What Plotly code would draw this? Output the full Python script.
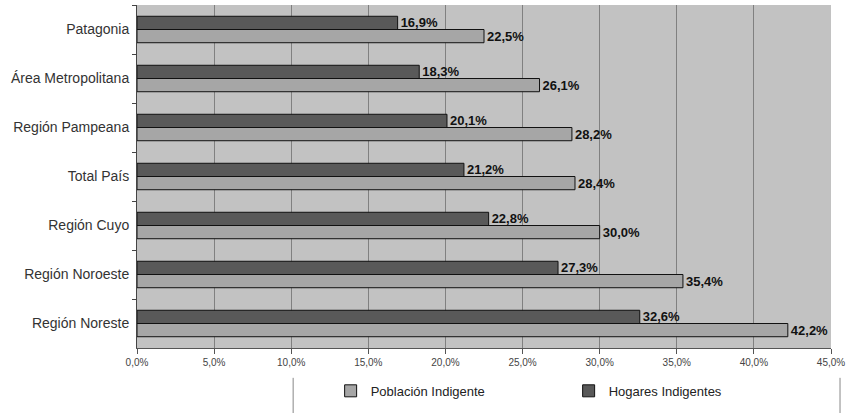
import plotly.graph_objects as go

categories = ["Patagonia", "Área Metropolitana", "Región Pampeana", "Total País",
              "Región Cuyo", "Región Noroeste", "Región Noreste"]
hogares = [16.9, 18.3, 20.1, 21.2, 22.8, 27.3, 32.6]
poblacion = [22.5, 26.1, 28.2, 28.4, 30.0, 35.4, 42.2]
x_ticks = [0, 5, 10, 15, 20, 25, 30, 35, 40, 45]
x_ticktext = ["0,0%", "5,0%", "10,0%", "15,0%", "20,0%", "25,0%", "30,0%",
              "35,0%", "40,0%", "45,0%"]

label_font = dict(family="Liberation Sans, Arial", size=13, color="#111111", weight="bold")

fig = go.Figure()
fig.add_trace(go.Bar(
    y=categories, x=hogares, orientation="h", name="Hogares Indigentes",
    marker=dict(color="#595959", line=dict(color="#111111", width=1)),
    texttemplate="%{x:.1f}%", textposition="outside", cliponaxis=False,
    constraintext="none", textfont=label_font,
))
fig.add_trace(go.Bar(
    y=categories, x=poblacion, orientation="h", name="Población Indigente",
    marker=dict(color="#a6a6a6", line=dict(color="#111111", width=1)),
    texttemplate="%{x:.1f}%", textposition="outside", cliponaxis=False,
    constraintext="none", textfont=label_font,
))

fig.update_layout(
    width=851, height=413,
    margin=dict(l=137, r=20, t=5, b=65),
    paper_bgcolor="white", plot_bgcolor="#c2c2c2",
    separators=",.",
    barmode="group", bargap=0.46, bargroupgap=0,
    font=dict(family="Liberation Sans, Arial", color="#333333"),
    showlegend=True,
    legend=dict(orientation="h", x=0.279, xanchor="left", y=-0.125, yanchor="middle",
                traceorder="reversed", entrywidth=193, entrywidthmode="pixels",
                font=dict(size=13, color="#222222"), bgcolor="rgba(0,0,0,0)"),
)
fig.update_xaxes(
    range=[0, 45], tickvals=x_ticks, ticktext=x_ticktext,
    showgrid=True, gridcolor="#808080", gridwidth=1,
    showline=True, linecolor="#555555", linewidth=1,
    ticks="outside", ticklen=5, tickcolor="#555555",
    tickfont=dict(size=10, color="#444444"), zeroline=False, automargin=False,
)
fig.update_yaxes(
    autorange="reversed", showline=True, linecolor="#444444", linewidth=1,
    ticks="outside", ticklen=4, tickcolor="#444444", tickson="boundaries",
    ticklabelstandoff=4,
    tickfont=dict(size=14, color="#333333"), showgrid=False, automargin=False,
)
for xp in [0.225, 1.013]:
    fig.add_shape(type="line", xref="paper", yref="paper", x0=xp, x1=xp,
                  y0=-0.087, y1=-0.2, line=dict(color="#888888", width=1))

fig.write_html("out.html", post_script="document.body.style.margin='0';",
               config={"displayModeBar": False})
